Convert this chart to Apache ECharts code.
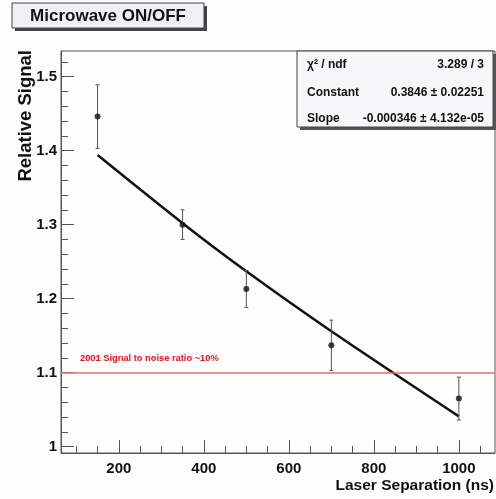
<!DOCTYPE html>
<html>
<head>
<meta charset="utf-8">
<script src="https://cdn.jsdelivr.net/npm/echarts@6/dist/echarts.min.js"></script>
<style>
  html, body { margin: 0; padding: 0; background: #fdfdfd; }
  #chart { width: 496px; height: 499px; }
</style>
</head>
<body>
<div id="chart"></div>
<script>
// measured points (laser separation in ns vs relative signal)
var sepNs = [150, 350, 500, 700, 1000];
var signal = [1.446, 1.300, 1.213, 1.137, 1.065];
var sigErr = [0.043, 0.020, 0.025, 0.034, 0.029];

// fit curve at a few x positions
var fitX = [150, 350, 500, 700, 1000];
var fitY = [1.394, 1.302, 1.237, 1.156, 1.041];

// 2001 reference level
var refLevel = 1.1;

// tick positions
var xMajor = [200, 400, 600, 800, 1000];
var xMinor = [100, 150, 250, 300, 350, 450, 500, 550, 650, 700, 750, 850, 900, 950, 1050];
var yMajor = [1, 1.1, 1.2, 1.3, 1.4, 1.5];
var yMinor = [1.02, 1.04, 1.06, 1.08, 1.12, 1.14, 1.16, 1.18, 1.22, 1.24, 1.26, 1.28,
              1.32, 1.34, 1.36, 1.38, 1.42, 1.44, 1.46, 1.48, 1.52];

// fit stats box rows
var statNames = ['χ² / ndf', 'Constant', 'Slope'];
var statValues = ['3.289 / 3', '0.3846 ± 0.02251', '-0.000346 ± 4.132e-05'];

var FONT = '"Liberation Sans", Arial, sans-serif';
var xMin = 64, xMax = 1085, yMin = 0.9915, yMax = 1.5346;

var myChart = echarts.init(document.getElementById('chart'));

var errData = [], pts = [];
for (var i = 0; i < sepNs.length; i++) {
    errData.push([sepNs[i], signal[i] - sigErr[i], signal[i] + sigErr[i]]);
    pts.push([sepNs[i], signal[i]]);
}
var fitData = [];
for (var j = 0; j < fitX.length; j++) {
    fitData.push([fitX[j], fitY[j]]);
}

function fmtY(v) {
    return String(+(+v).toFixed(2));
}
function fmtX(v) {
    return String(Math.round(v));
}

var graphics = [
    // title box
    { type: 'rect', shape: { x: 15, y: 6, width: 192, height: 25 }, style: { fill: '#444' }, z: 10 },
    { type: 'rect', shape: { x: 12, y: 3, width: 192, height: 25 }, style: { fill: '#eef0f5', stroke: '#444', lineWidth: 1 }, z: 11 },
    { type: 'text', x: 108, y: 16, style: { text: 'Microwave ON/OFF', font: 'bold 17px ' + FONT, fill: '#111', align: 'center', verticalAlign: 'middle' }, z: 12 },
    // stats box
    { type: 'rect', shape: { x: 300, y: 54, width: 196, height: 76 }, style: { fill: '#555' }, z: 10 },
    { type: 'rect', shape: { x: 297, y: 51, width: 196, height: 76 }, style: { fill: '#f7f7f9', stroke: '#444', lineWidth: 1 }, z: 11 },
    // axis titles
    { type: 'text', x: 26, y: 50, rotation: Math.PI / 2, style: { text: 'Relative Signal', font: 'bold 18.5px ' + FONT, fill: '#111', align: 'right', verticalAlign: 'middle' }, z: 12 },
    { type: 'text', x: 494, y: 486, style: { text: 'Laser Separation (ns)', font: 'bold 15.5px ' + FONT, fill: '#111', align: 'right', verticalAlign: 'middle' }, z: 12 },
    // reference label
    { type: 'text', x: 80, y: 358, style: { text: '2001 Signal to noise ratio ~10%', font: 'bold 9.3px ' + FONT, fill: '#e3131c', align: 'left', verticalAlign: 'middle' }, z: 12 }
];
var rowY = [65, 93, 119];
for (var k = 0; k < statNames.length; k++) {
    graphics.push({ type: 'text', x: 307, y: rowY[k], style: { text: statNames[k], font: 'bold 12px ' + FONT, fill: '#111', align: 'left', verticalAlign: 'middle' }, z: 12 });
    graphics.push({ type: 'text', x: 484, y: rowY[k], style: { text: statValues[k], font: 'bold 12px ' + FONT, fill: '#111', align: 'right', verticalAlign: 'middle' }, z: 12 });
}

var option = {
    backgroundColor: '#fdfdfd',
    animation: false,
    grid: {
        left: 61, right: 1, top: 51, bottom: 46,
        show: true, borderColor: '#555', borderWidth: 1, backgroundColor: 'transparent'
    },
    xAxis: [{
        type: 'value', min: xMin, max: xMax,
        splitLine: { show: false },
        axisLine: { lineStyle: { color: '#555', width: 1 } },
        axisTick: { inside: true, length: 13, customValues: xMajor, lineStyle: { color: '#555' } },
        axisLabel: { customValues: xMajor, formatter: fmtX, color: '#111', fontFamily: FONT, fontWeight: 'bold', fontSize: 15, margin: 8 }
    }, {
        type: 'value', min: xMin, max: xMax, position: 'bottom',
        splitLine: { show: false },
        axisLine: { show: false },
        axisTick: { inside: true, length: 7, customValues: xMinor, lineStyle: { color: '#555' } },
        axisLabel: { show: false }
    }],
    yAxis: [{
        type: 'value', min: yMin, max: yMax,
        splitLine: { show: false },
        axisLine: { show: true, lineStyle: { color: '#555', width: 1 } },
        axisTick: { show: true, inside: true, length: 13, customValues: yMajor, lineStyle: { color: '#555' } },
        axisLabel: { customValues: yMajor, formatter: fmtY, color: '#111', fontFamily: FONT, fontWeight: 'bold', fontSize: 15, margin: 4 }
    }, {
        type: 'value', min: yMin, max: yMax, position: 'left',
        splitLine: { show: false },
        axisLine: { show: false },
        axisTick: { show: true, inside: true, length: 7, customValues: yMinor, lineStyle: { color: '#555' } },
        axisLabel: { show: false }
    }],
    series: [{
        // 2001 reference level
        type: 'line',
        data: [],
        silent: true,
        markLine: {
            symbol: 'none',
            silent: true,
            label: { show: false },
            lineStyle: { color: '#ea6a6c', width: 1.5, type: 'solid' },
            data: [{ yAxis: refLevel }]
        }
    }, {
        // fit curve
        type: 'line',
        data: fitData,
        symbol: 'none',
        smooth: 0.3,
        lineStyle: { color: '#111', width: 2.5 },
        z: 3
    }, {
        // error bars
        type: 'custom',
        data: errData,
        z: 4,
        renderItem: function (params, api) {
            var x = api.value(0);
            var lo = api.coord([x, api.value(1)]);
            var hi = api.coord([x, api.value(2)]);
            var st = { stroke: '#555', lineWidth: 1 };
            return {
                type: 'group',
                children: [
                    { type: 'line', shape: { x1: lo[0], y1: lo[1], x2: hi[0], y2: hi[1] }, style: st },
                    { type: 'line', shape: { x1: lo[0] - 2, y1: lo[1], x2: lo[0] + 2, y2: lo[1] }, style: st },
                    { type: 'line', shape: { x1: hi[0] - 2, y1: hi[1], x2: hi[0] + 2, y2: hi[1] }, style: st }
                ]
            };
        }
    }, {
        // measured points
        type: 'scatter',
        data: pts,
        symbol: 'circle',
        symbolSize: 6,
        itemStyle: { color: '#111' },
        z: 5
    }],
    graphic: graphics
};

myChart.setOption(option);
</script>
</body>
</html>
